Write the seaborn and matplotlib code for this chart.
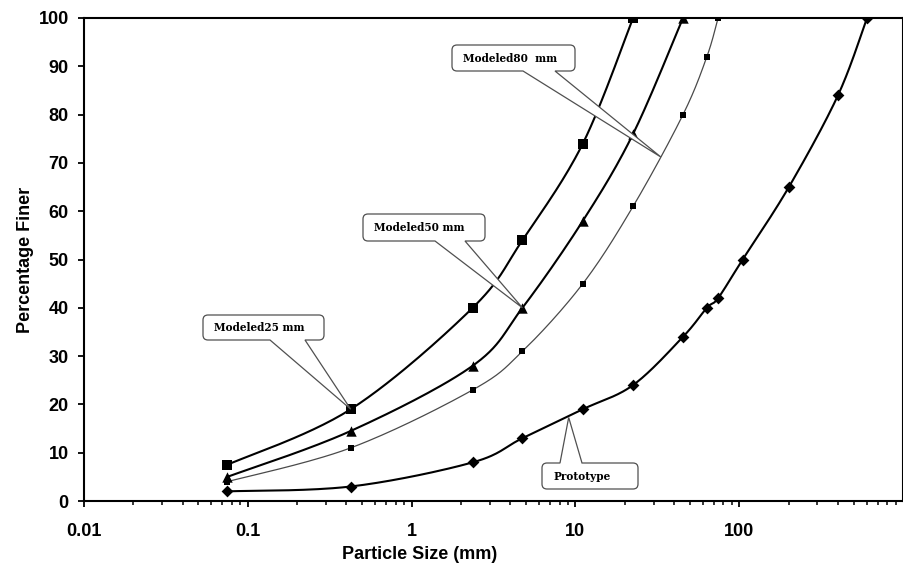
import numpy as np
import pandas as pd
import matplotlib
matplotlib.use("Agg")
import matplotlib.pyplot as plt
from matplotlib.path import Path
from matplotlib.patches import PathPatch
from matplotlib.ticker import FixedLocator, LogLocator, NullFormatter
import seaborn as sns

# Sieve openings (mm) and percentage passing for each gradation
sieve_mm = [0.075, 0.425, 2.36, 4.75, 11.1, 22.5, 45.4, 63.5, 74.3, 105, 201, 401, 603]
modeled_25 = [7.5, 19, 40, 54, 74, 100]
modeled_50 = [5, 14.5, 28, 40, 58, 76, 100]
modeled_80 = [4, 11, 23, 31, 45, 61, 80, 92, 100]
prototype = [2, 3, 8, 13, 19, 24, 34, 40, 42, 50, 65, 84, 100]

x_ticks = [0.01, 0.1, 1, 10, 100]
x_tick_labels = ["0.01", "0.1", "1", "10", "100"]
y_ticks = list(range(0, 101, 10))

W, H, DPI = 904, 568, 100

sns.set_theme(style="white")
plt.rcParams["font.family"] = ["Liberation Sans", "DejaVu Sans"]


def smooth(xs, ys, n=30):
    """Catmull-Rom curve through the points, in log10(x) space."""
    u = np.log10(np.asarray(xs, float))
    v = np.asarray(ys, float)
    pu = np.concatenate([[u[0]], u, [u[-1]]])
    pv = np.concatenate([[v[0]], v, [v[-1]]])
    out_u, out_v = [u[0]], [v[0]]
    t = np.linspace(0, 1, n)[1:]
    for i in range(1, len(pu) - 2):
        p0u, p1u, p2u, p3u = pu[i - 1], pu[i], pu[i + 1], pu[i + 2]
        p0v, p1v, p2v, p3v = pv[i - 1], pv[i], pv[i + 1], pv[i + 2]
        c1u, c1v = p1u + (p2u - p0u) / 6, p1v + (p2v - p0v) / 6
        c2u, c2v = p2u - (p3u - p1u) / 6, p2v - (p3v - p1v) / 6
        b = lambda a0, a1, a2, a3: ((1 - t) ** 3 * a0 + 3 * (1 - t) ** 2 * t * a1
                                    + 3 * (1 - t) * t ** 2 * a2 + t ** 3 * a3)
        out_u.extend(b(p1u, c1u, c2u, p2u))
        out_v.extend(b(p1v, c1v, c2v, p2v))
    return 10 ** np.array(out_u), np.array(out_v)


fig = plt.figure(figsize=(W / DPI, H / DPI), dpi=DPI)
ax = fig.add_axes([84 / W, 1 - 501 / H, (903 - 84) / W, (501 - 18) / H])

series = [
    ("Modeled 25 mm", modeled_25, "s", 7.2, "black", 1.5),
    ("Modeled 50 mm", modeled_50, "^", 7.5, "black", 1.5),
    ("Modeled 80 mm", modeled_80, "s", 4.6, "#4a4a4a", 0.9),
    ("Prototype", prototype, "D", 6.0, "black", 1.5),
]

for name, vals, mk, ms, col, lw in series:
    xs = sieve_mm[:len(vals)]
    cx, cy = smooth(xs, vals)
    curve = pd.DataFrame({"size": cx, "pct": cy})
    sns.lineplot(data=curve, x="size", y="pct", sort=False, estimator=None,
                 color=col, linewidth=lw, ax=ax, zorder=3)
    pts = pd.DataFrame({"size": xs, "pct": vals})
    sns.scatterplot(data=pts, x="size", y="pct", marker=mk, s=ms ** 2,
                    color="black", linewidth=0, ax=ax, zorder=4)

ax.set_xscale("log")
ax.set_xlim(0.01, 1000)
ax.set_ylim(0, 100)

ax.xaxis.set_major_locator(FixedLocator(x_ticks))
ax.set_xticklabels(x_tick_labels)
ax.xaxis.set_minor_locator(LogLocator(base=10, subs=np.arange(2, 10), numticks=20))
ax.xaxis.set_minor_formatter(NullFormatter())
ax.set_yticks(y_ticks)

for sp in ax.spines.values():
    sp.set_visible(True)
    sp.set_color("black")
    sp.set_linewidth(1.5)

ax.tick_params(axis="x", which="major", direction="out", length=4.5, width=1.3,
               colors="black", pad=11, bottom=True)
ax.tick_params(axis="x", which="minor", direction="out", length=3, width=1.1,
               colors="black", bottom=True)
ax.tick_params(axis="y", which="major", direction="out", length=4, width=1.3,
               colors="black", pad=7, left=True)
for lab in ax.get_xticklabels() + ax.get_yticklabels():
    lab.set_fontsize(13)
    lab.set_fontweight("bold")

ax.set_xlabel("Particle Size (mm)", fontsize=13, fontweight="bold", color="black")
ax.set_ylabel("Percentage Finer", fontsize=13, fontweight="bold", color="black")
ax.xaxis.set_label_coords((420 - 84) / (903 - 84), -(546 - 501) / (501 - 18))
ax.yaxis.set_label_coords(-(84 - 34) / (903 - 84), (501 - 260) / (501 - 18))


def callout(text, box, base, tip_data, tail_on_top=False, r=5):
    """Rounded callout box (pixel coords, top-left origin) with a wedge tail."""
    x0, y0, x1, y1 = box
    T, B = H - y0, H - y1
    bl, br = base
    tx, ty = ax.transData.transform(tip_data)
    verts, codes = [], []

    def mv(p):
        verts.append(p); codes.append(Path.MOVETO)

    def ln(p):
        verts.append(p); codes.append(Path.LINETO)

    def qd(c, p):
        verts.extend([c, p]); codes.extend([Path.CURVE3, Path.CURVE3])

    mv((x0 + r, B))
    if not tail_on_top:
        ln((bl, B)); ln((tx, ty)); ln((br, B))
    ln((x1 - r, B))
    qd((x1, B), (x1, B + r))
    ln((x1, T - r))
    qd((x1, T), (x1 - r, T))
    if tail_on_top:
        ln((br, T)); ln((tx, ty)); ln((bl, T))
    ln((x0 + r, T))
    qd((x0, T), (x0, T - r))
    ln((x0, B + r))
    qd((x0, B), (x0 + r, B))
    verts.append((x0 + r, B)); codes.append(Path.CLOSEPOLY)

    patch = PathPatch(Path(verts, codes), transform=None, facecolor="white",
                      edgecolor="#505050", linewidth=0.9, zorder=6, clip_on=False)
    ax.add_artist(patch)
    fig.text((x0 + 11) / W, 1 - ((y0 + y1) / 2) / H, text, ha="left", va="center",
             fontsize=7.6, fontweight="bold", family=["DejaVu Serif"],
             color="black", zorder=7)


fig.canvas.draw()
callout("Modeled25 mm", (203, 315, 324, 340), (270, 305), (sieve_mm[1], modeled_25[1]))
callout("Modeled50 mm", (363, 214, 485, 241), (435, 465), (sieve_mm[3], modeled_50[3]))
callout("Modeled80  mm", (452, 45, 575, 71), (523, 555), (33.3, 71.2))
callout("Prototype", (542, 463, 638, 489), (560, 582), (9.1, 17.3), tail_on_top=True)

fig.savefig("out.png", dpi=DPI)
